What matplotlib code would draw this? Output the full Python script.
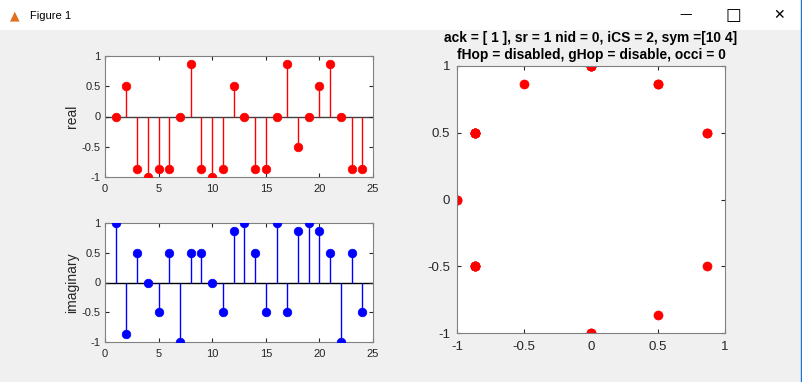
import numpy as np
import matplotlib
matplotlib.use("Agg")
import matplotlib.pyplot as plt
from matplotlib.patches import Rectangle

plt.rcParams['font.family'] = ['Liberation Sans', 'DejaVu Sans']

# symbol index
n = list(range(1, 25))
# real part
re_vals = [0, 0.5, -0.866, -1, -0.866, -0.866, 0, 0.866, -0.866, -1, -0.866, 0.5,
           0, -0.866, -0.866, 0, 0.866, -0.5, 0, 0.5, 0.866, 0, -0.866, -0.866]
# imaginary part
im_vals = [1, -0.866, 0.5, 0, -0.5, 0.5, -1, 0.5, 0.5, 0, -0.5, 0.866,
           1, 0.5, -0.5, 1, -0.5, 0.866, 1, 0.866, 0.5, -1, 0.5, -0.5]
title_lines = ["ack = [ 1 ], sr = 1 nid = 0, iCS = 2, sym =[10 4]",
               "fHop = disabled, gHop = disable, occi = 0"]
ticks_pm1 = [-1, -0.5, 0, 0.5, 1]
tick_txt = ['-1', '-0.5', '0', '0.5', '1']

W, H = 802, 382
fig = plt.figure(figsize=(W / 100, H / 100), dpi=100, facecolor='#f0f0f0')

def px_axes(x0, y0, x1, y1):
    return fig.add_axes([x0 / W, 1 - y1 / H, (x1 - x0) / W, (y1 - y0) / H])

# window title bar
fig.patches.append(Rectangle((0, 1 - 30 / H), 1, 30 / H, transform=fig.transFigure,
                             facecolor='white', edgecolor='none', zorder=0))
fig.text(30 / W, 1 - 16 / H, "Figure 1", fontsize=8, va='center', ha='left', color='black')
fig.text(686 / W, 1 - 15 / H, "\u2014", fontsize=9, va='center', ha='center', family='DejaVu Sans')
fig.text(733 / W, 1 - 15 / H, "\u25a1", fontsize=12, va='center', ha='center', family='DejaVu Sans')
fig.text(779 / W, 1 - 15 / H, "\u2715", fontsize=10, va='center', ha='center', family='DejaVu Sans')
fig.text(15 / W, 1 - 16 / H, "\u25b2", fontsize=9, va='center', ha='center', color='#e07020', family='DejaVu Sans')

def style(ax, size, xpad, ypad):
    ax.tick_params(direction='in', length=3, top=True, right=True, labelsize=size,
                   colors='#262626')
    ax.tick_params(axis='x', pad=xpad)
    ax.tick_params(axis='y', pad=ypad)
    for s in ax.spines.values():
        s.set_color('#808080')
        s.set_linewidth(0.8)

def stem_plot(ax, vals, color, label):
    ax.axhline(0, color='#404040' if color == 'r' else 'black', lw=1, zorder=1)
    ax.vlines(n, 0, vals, color=color, lw=1, zorder=2)
    ax.plot(n, vals, 'o', color=color, ms=6.2, mew=0.5, zorder=3)
    ax.set_xlim(0, 25)
    ax.set_ylim(-1, 1)
    ax.set_xticks([0, 5, 10, 15, 20, 25])
    ax.set_yticks(ticks_pm1)
    ax.set_yticklabels(tick_txt)
    ax.set_ylabel(label, fontsize=10, color='#262626', labelpad=2)
    style(ax, 8, 5, 3)

ax1 = px_axes(105, 56, 373, 177)
stem_plot(ax1, re_vals, 'r', 'real')
ax2 = px_axes(105, 223, 373, 342)
stem_plot(ax2, im_vals, 'b', 'imaginary')

ax3 = px_axes(457, 66, 725, 333)
ax3.plot(re_vals, im_vals, 'o', color='r', ms=6.5, mew=0.5)
ax3.set_xlim(-1, 1)
ax3.set_ylim(-1, 1)
ax3.set_xticks(ticks_pm1)
ax3.set_xticklabels(tick_txt)
ax3.set_yticks(ticks_pm1)
ax3.set_yticklabels(tick_txt)
style(ax3, 9.5, 6, 5)
ax3.set_title("\n".join(title_lines), fontsize=9.9, fontweight='bold', color='black',
              pad=5, linespacing=1.3)

# window border on the right
fig.add_artist(plt.Line2D([800.5 / W, 800.5 / W], [0, 1], color='#1a73d9', lw=1))

fig.savefig('out.png', dpi=100, facecolor=fig.get_facecolor())
